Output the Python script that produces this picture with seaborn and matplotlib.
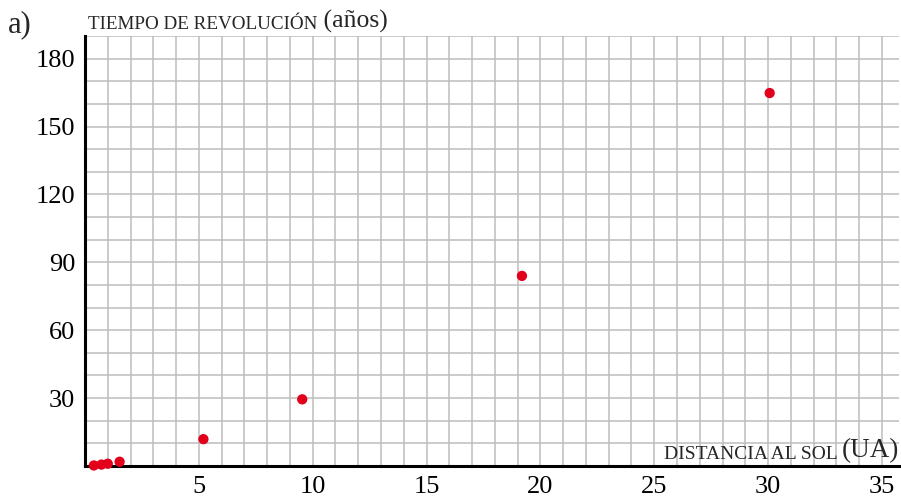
import numpy as np
import pandas as pd
import matplotlib
matplotlib.use("Agg")
import matplotlib.pyplot as plt
from matplotlib.ticker import MultipleLocator
import seaborn as sns

# distancia al sol (UA) y periodo orbital (años) de los planetas
planetas = ["Mercurio", "Venus", "Tierra", "Marte", "Júpiter", "Saturno", "Urano", "Neptuno"]
distancia = [0.39, 0.72, 1.0, 1.52, 5.2, 9.54, 19.19, 30.07]
periodo = [0.24, 0.62, 1.0, 1.88, 11.86, 29.46, 84.0, 164.8]

x_ticks = [5, 10, 15, 20, 25, 30, 35]
y_ticks = [30, 60, 90, 120, 150, 180]

df = pd.DataFrame({"planeta": planetas, "distancia": distancia, "periodo": periodo})

sns.set_style("white")
plt.rcParams["font.family"] = ["Liberation Serif", "DejaVu Serif"]

fig = plt.figure(figsize=(9.01, 4.97), dpi=100)
ax = fig.add_axes([85 / 901, 31 / 497, 814 / 901, 430 / 497])

sns.scatterplot(data=df, x="distancia", y="periodo", ax=ax, color="#e2001a",
                s=55, edgecolor="none", zorder=5, clip_on=False)

ax.set_xlim(0, 35.75)
ax.set_ylim(0, 190)

ax.xaxis.set_major_locator(MultipleLocator(5))
ax.xaxis.set_minor_locator(MultipleLocator(1))
ax.yaxis.set_major_locator(MultipleLocator(30))
ax.yaxis.set_minor_locator(MultipleLocator(10))
ax.set_xticks(x_ticks)
ax.set_yticks(y_ticks)

ax.grid(True, which="both", color="#bdbdbd", linewidth=1.1)
ax.set_axisbelow(True)

for s in ["top", "right"]:
    ax.spines[s].set_visible(False)
for s in ["left", "bottom"]:
    ax.spines[s].set_linewidth(2.2)
    ax.spines[s].set_color("black")

ax.tick_params(axis="both", which="major", direction="inout", length=8, width=1.8,
               labelsize=19, colors="black", pad=3)
ax.tick_params(axis="x", which="minor", direction="inout", length=8, width=1.8, colors="black")
ax.tick_params(axis="y", which="minor", length=0)

ax.set_xlabel("")
ax.set_ylabel("")

# etiqueta del eje y (versalitas)
t1 = fig.text(88 / 901, 1 - 29 / 497, "TIEMPO DE REVOLUCIÓN", fontsize=13.8, va="baseline", ha="left")
ax.annotate(" (años)", xy=(1, 0), xycoords=t1, fontsize=18.5, va="bottom", ha="left",
            annotation_clip=False)

# etiqueta del eje x
t2 = fig.text(899 / 901, 1 - 457 / 497, "(UA)", fontsize=19.5, va="baseline", ha="right")
ax.annotate("DISTANCIA AL SOL ", xy=(0, 0), xycoords=t2, fontsize=14, va="bottom", ha="right",
            annotation_clip=False)

fig.text(8 / 901, 1 - 32 / 497, "a)", fontsize=22, va="baseline", ha="left")

fig.savefig("out.png", dpi=100)
